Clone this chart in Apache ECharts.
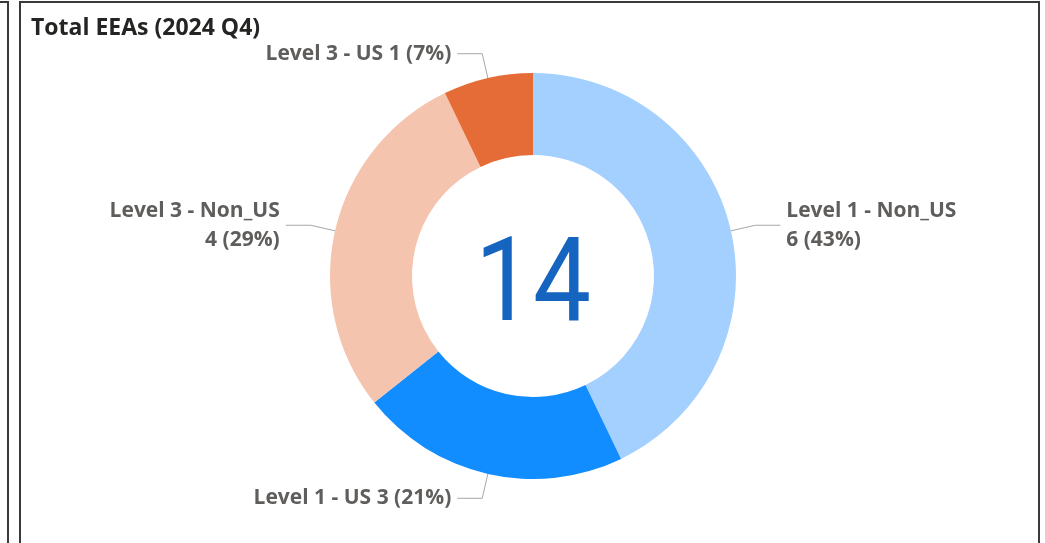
<!DOCTYPE html>
<html>
<head>
<meta charset="utf-8">
<script src="https://cdn.jsdelivr.net/npm/echarts@6/dist/echarts.min.js"></script>
<style>
    html, body { margin: 0; padding: 0; background: #ffffff; overflow: hidden; }
    #chart { position: absolute; left: 0; top: 0; width: 1045px; height: 543px; }
    .frame { position: absolute; border: 2px solid #3a3a3a; pointer-events: none; }
</style>
</head>
<body>
<div id="chart"></div>
<div class="frame" style="left:-12px; top:1px; width:17px; height:600px;"></div>
<div class="frame" style="left:19px; top:1px; width:1017px; height:600px;"></div>
<script>
    var chartTitle = 'Total EEAs (2024 Q4)';
    var categories = ['Level 1 - Non_US', 'Level 1 - US', 'Level 3 - Non_US', 'Level 3 - US'];
    var values = [6, 3, 4, 1];
    var colors = ['#A3D0FF', '#118DFF', '#F4C4AE', '#E66C37'];

    // 总数 显示在圆环中间
    var total = 0;
    for (var i = 0; i < values.length; i++) total += values[i];

    var data = [];
    for (var i = 0; i < categories.length; i++) {
        data.push({ name: categories[i], value: values[i], itemStyle: { color: colors[i] } });
    }

    var myChart = echarts.init(document.getElementById('chart'));
    var option = {
        animation: false,
        title: {
            text: chartTitle,
            left: 31,
            top: 17,
            padding: 0,
            textStyle: { fontFamily: 'Open Sans', fontSize: 23, fontWeight: 'bold', color: '#252423' }
        },
        graphic: [{
            type: 'text',
            x: 533,
            y: 291,
            scaleX: 0.89,
            silent: true,
            style: {
                text: String(total),
                align: 'center',
                verticalAlign: 'middle',
                font: 'normal 116px Roboto',
                fill: '#1565C0'
            }
        }],
        series: [{
            type: 'pie',
            center: [533, 276],
            radius: [121, 203],
            startAngle: 90,
            clockwise: true,
            percentPrecision: 0,
            emphasis: { scale: false },
            label: {
                show: true,
                position: 'outside',
                fontFamily: 'Open Sans',
                fontSize: 21,
                fontWeight: 'bold',
                color: '#605E5C',
                lineHeight: 29,
                padding: [6, 0, 0, 0],
                distanceToLabelLine: 6,
                formatter: function (p) {
                    // 左右两边的标签换行
                    if (p.name.indexOf('Non_US') >= 0) return p.name + '\n' + p.value + ' (' + p.percent + '%)';
                    return p.name + ' ' + p.value + ' (' + p.percent + '%)';
                }
            },
            labelLine: {
                show: true,
                length: 25,
                length2: 25,
                lineStyle: { color: '#A6A6A6', width: 1 }
            },
            data: data
        }]
    };
    myChart.setOption(option);
</script>
</body>
</html>
